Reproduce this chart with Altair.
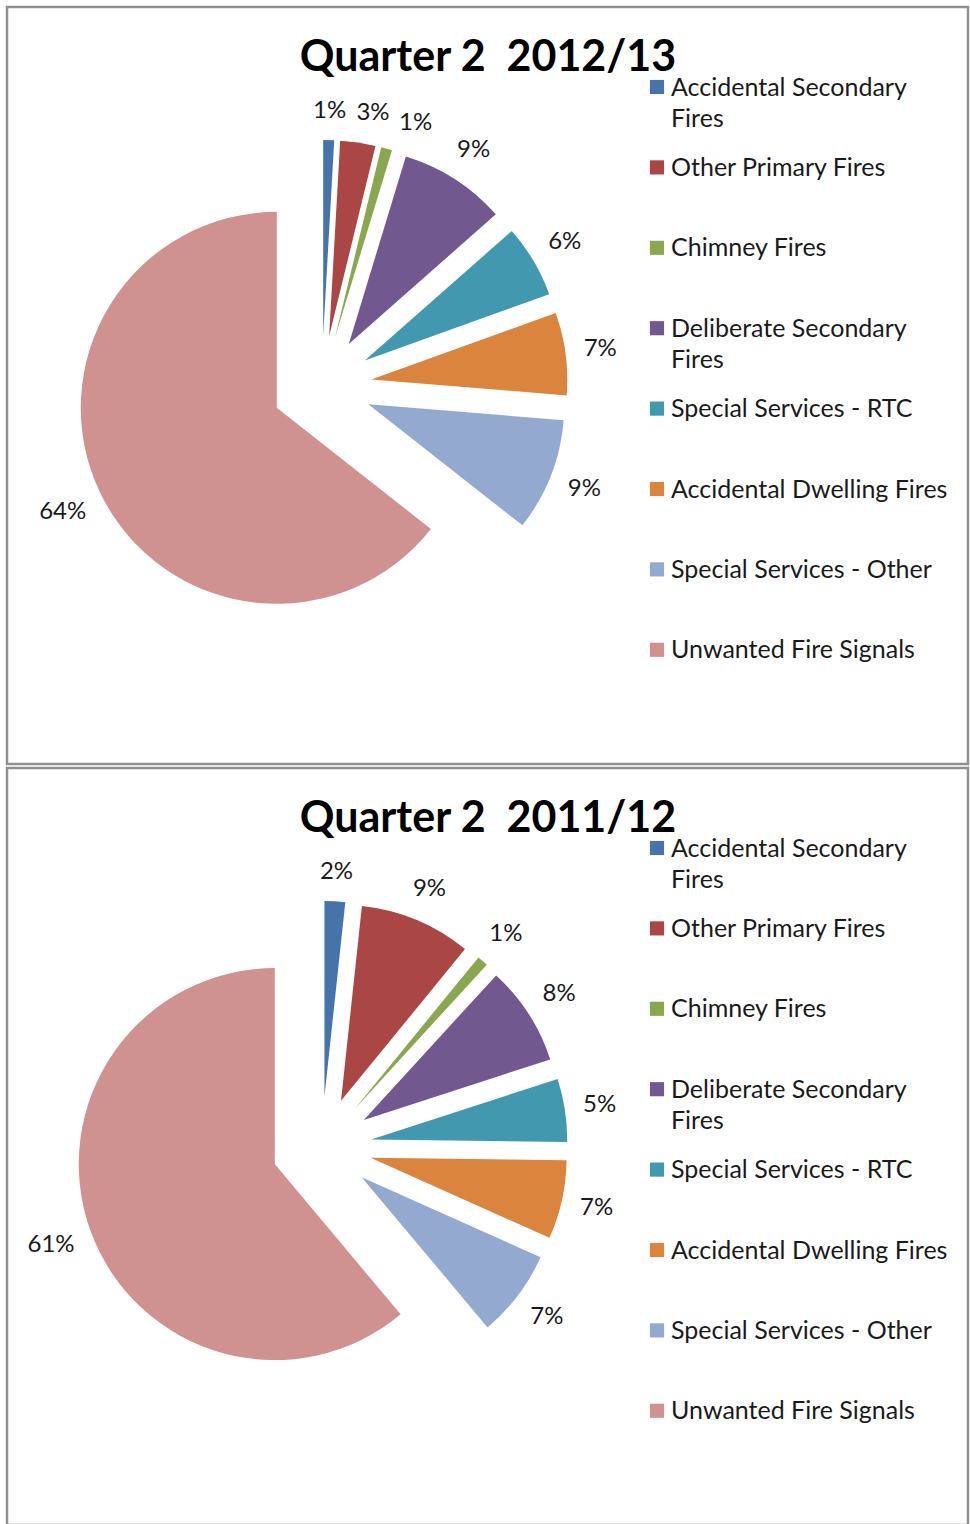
import math
import altair as alt
import pandas as pd

# ---------------- data ----------------
categories = [
    "Accidental Secondary Fires",
    "Other Primary Fires",
    "Chimney Fires",
    "Deliberate Secondary Fires",
    "Special Services - RTC",
    "Accidental Dwelling Fires",
    "Special Services - Other",
    "Unwanted Fire Signals",
]
legend_lines = [
    "Accidental Secondary\nFires",
    "Other Primary Fires",
    "Chimney Fires",
    "Deliberate Secondary\nFires",
    "Special Services - RTC",
    "Accidental Dwelling Fires",
    "Special Services - Other",
    "Unwanted Fire Signals",
]
colors = ["#4674AA", "#AA4644", "#8AA64F", "#71588F",
          "#4198AF", "#DB843D", "#93A9CF", "#D09291"]

titles = ["Quarter 2\u00a0\u00a02012/13", "Quarter 2\u00a0\u00a02011/12"]
# shares (%); labels show them rounded
values_2012_13 = [0.9, 2.9, 0.9, 8.8, 6.0, 6.8, 9.3, 64.4]
values_2011_12 = [1.7, 9.2, 0.9, 8.2, 5.2, 6.5, 7.2, 61.1]

# ---------------- layout / style ----------------
W, H = 961, 757
CX, CY, R, EXPLODE = 314.75, 379, 196, 50
GAP = 21
LABEL_MIN_SEP = 9.5 * math.pi / 180  # minimal angular spacing between labels
LABEL_FS = 24
LEG_X, LEG_Y0, LEG_STEP = 650, 80, 80.4
LEG_FS = 25
FONT = "Lato"
TEXT_COLOR = "#1a1a1a"

color_scale = alt.Scale(domain=categories, range=colors)


def panel(title, values):
    df = pd.DataFrame({
        "category": categories,
        "value": values,
        "idx": list(range(len(categories))),
        "legend": legend_lines,
    })
    base = (
        alt.Chart(df)
        .transform_joinaggregate(total="sum(value)")
        .transform_window(cum="sum(value)", sort=[alt.SortField("idx")], frame=[None, 0])
        .transform_calculate(start="100*(datum.cum - datum.value)/datum.total")
        .transform_calculate(end="100*datum.cum/datum.total")
        .transform_calculate(ang="2*PI*(datum.cum - datum.value/2)/datum.total")
        .transform_calculate(sx=f"{CX} + {EXPLODE}*sin(datum.ang)")
        .transform_calculate(sy=f"{CY} - {EXPLODE}*cos(datum.ang)")
        .transform_calculate(label="format(100*datum.value/datum.total, '.0f') + '%'")
        # keep neighbouring labels apart (forward push, closed form of a running max)
        .transform_calculate(b=f"datum.ang - datum.idx*{LABEL_MIN_SEP}")
        .transform_window(bmax="max(b)", sort=[alt.SortField("idx")], frame=[None, 0])
        .transform_calculate(la=f"max(datum.ang, datum.bmax + datum.idx*{LABEL_MIN_SEP})")
        .transform_calculate(
            dist=f"{R} + {GAP} + abs(sin(datum.la))*length(datum.label)*6.5 + abs(cos(datum.la))*8"
        )
        .transform_calculate(lx="datum.sx + datum.dist*sin(datum.la)")
        .transform_calculate(ly="datum.sy - datum.dist*cos(datum.la)")
    )

    arcs = base.mark_arc(outerRadius=R).encode(
        x=alt.X("sx:Q", scale=None, axis=None),
        y=alt.Y("sy:Q", scale=None, axis=None),
        theta=alt.Theta("start:Q", scale=alt.Scale(domain=[0, 100], range=[0, 2 * math.pi]), stack=None),
        theta2="end:Q",
        color=alt.Color("category:N", scale=color_scale, legend=None),
    )

    labels = base.mark_text(
        font=FONT, fontSize=LABEL_FS, color=TEXT_COLOR, align="center", baseline="middle"
    ).encode(
        x=alt.X("lx:Q", scale=None, axis=None),
        y=alt.Y("ly:Q", scale=None, axis=None),
        text="label:N",
    )

    leg = (
        alt.Chart(df)
        .transform_calculate(ry=f"{LEG_Y0} + datum.idx*{LEG_STEP}")
        .transform_calculate(ty="datum.ry - 11.5")
    )
    leg_sq = leg.mark_square(size=200, opacity=1, filled=True).encode(
        x=alt.value(LEG_X),
        y=alt.Y("ry:Q", scale=None, axis=None),
        color=alt.Color("category:N", scale=color_scale, legend=None),
    )
    leg_txt = leg.mark_text(
        font=FONT, fontSize=LEG_FS, color=TEXT_COLOR, align="left", baseline="top",
        lineBreak="\n", lineHeight=31,
    ).encode(
        x=alt.value(LEG_X + 14),
        y=alt.Y("ty:Q", scale=None, axis=None),
        text="legend:N",
    )

    ttl = alt.Chart(pd.DataFrame({"t": [title]})).mark_text(
        font=FONT, fontWeight="bold", fontSize=43, color="#000000", align="center", baseline="middle"
    ).encode(x=alt.value(481), y=alt.value(51), text="t:N")

    return alt.layer(arcs, labels, leg_sq, leg_txt, ttl).properties(width=W, height=H)


chart = (
    alt.vconcat(panel(titles[0], values_2012_13), panel(titles[1], values_2011_12), spacing=0)
    .properties(padding={"left": 5, "top": 5, "right": 0, "bottom": 0}, background="white")
    .configure_view(stroke="#8f8f8f", strokeWidth=2.5)
)

chart.save("out.html", embed_options={"renderer": "svg", "actions": False})
